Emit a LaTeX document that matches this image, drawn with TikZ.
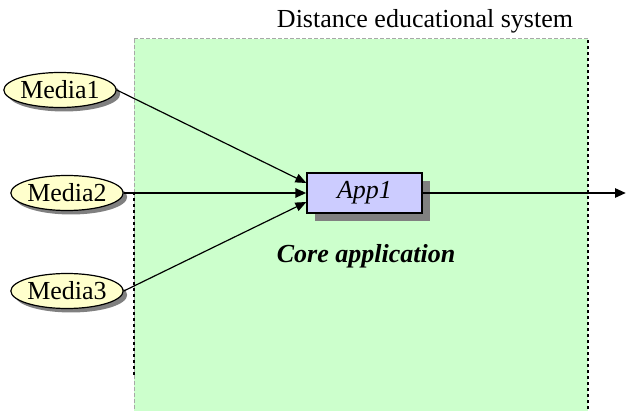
\documentclass[tikz,border=0pt]{standalone}
\usepackage{fontspec}
\setmainfont{Liberation Serif}
\usetikzlibrary{shapes.geometric,arrows.meta,shadows}
\definecolor{zonegreen}{HTML}{CCFFCC}
\definecolor{mediafill}{HTML}{FFFFCC}
\definecolor{appfill}{HTML}{CCCCFF}
\definecolor{shadowgray}{HTML}{808080}
\definecolor{edgegray}{HTML}{A8A8A8}
\tikzset{
  media/.style={ellipse, draw=black, line width=1.2pt, fill=mediafill,
    minimum width=106pt, minimum height=35pt, inner sep=0pt,
    font=\fontsize{26}{30}\selectfont,
    drop shadow={shadow xshift=4pt, shadow yshift=-4pt, fill=shadowgray, opacity=1}},
  appbox/.style={rectangle, draw=black, line width=1.2pt, fill=appfill,
    minimum width=115pt, minimum height=40pt, inner sep=0pt,
    font=\fontsize{26}{30}\selectfont\itshape,
    drop shadow={shadow xshift=8pt, shadow yshift=-8pt, fill=shadowgray, opacity=1}},
  thinarrow/.style={line width=1.2pt, -{Triangle[length=11pt,width=9pt]}},
  thickarrow/.style={line width=2.6pt, -{Triangle[length=11pt,width=9pt]}},
  grayedge/.style={edgegray, line width=1pt, dash pattern=on 4pt off 2pt},
  blackedge/.style={black, line width=2.6pt, dash pattern=on 3pt off 3pt},
  caption/.style={font=\fontsize{26}{30}\selectfont}
}
\begin{document}
\begin{tikzpicture}[x=1pt,y=-1pt]
\useasboundingbox (0,0) rectangle (626,411);
% zone
\fill[zonegreen] (134,39) rectangle (588,411);
\draw[grayedge] (134,39) -- (588,39);
\draw[grayedge] (134,39) -- (134,411);
\draw[blackedge] (134,192) -- (134,376);
\draw[blackedge] (588,40) -- (588,411);
\node[caption, anchor=base] (title) at (425,28) {Distance educational system};
% nodes
\node[media] (m1) at (60,90) {\raisebox{-3pt}{Media1}};
\node[media] (m2) at (67,193) {\raisebox{-3pt}{Media2}};
\node[media] (m3) at (67,291) {\raisebox{-3pt}{Media3}};
\node[appbox] (app) at (364.5,193) {App1};
\node[caption, anchor=base, font=\fontsize{26}{30}\selectfont\bfseries\itshape] (core) at (366,263) {Core application};
\coordinate (out) at (626,193);
% connectors
\draw[thinarrow] (m1.east) -- ([yshift=10pt]app.west);
\draw[thickarrow] (m2.east) -- (app.west);
\draw[thinarrow] (m3.east) -- ([yshift=-9pt]app.west);
\draw[thickarrow] (app.east) -- (out);
\end{tikzpicture}
\end{document}
